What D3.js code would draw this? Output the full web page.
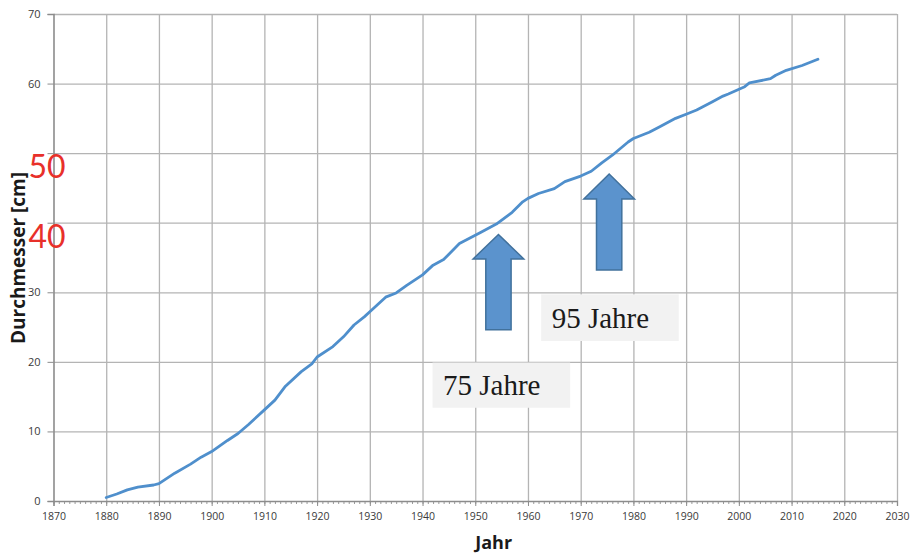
<!DOCTYPE html>
<html lang="de">
<head>
<meta charset="utf-8">
<title>Durchmesser</title>
<script src="https://d3js.org/d3.v7.min.js"></script>
<style>
  body { margin: 0; background: #fff; }
  .grid line { stroke: #b4b4b4; stroke-width: 1.3; }
  .grid path { display: none; }
  .tick text { font-family: "Open Sans", sans-serif; fill: #3a3a3a; }
  #trend { fill: none; stroke: #4f8fcc; stroke-width: 2.8; stroke-linejoin: round; stroke-linecap: round; }
</style>
</head>
<body>
<svg id="chart" width="913" height="554"></svg>
<script>
// Jahr and Durchmesser [cm]
let years = [1880, 1882, 1884, 1886, 1889, 1890, 1893, 1896, 1898, 1900, 1903, 1905, 1907, 1910,
             1912, 1914, 1917, 1919, 1920, 1923, 1925, 1927, 1929, 1930, 1933, 1935, 1937, 1939,
             1940, 1942, 1944, 1947, 1950, 1951, 1954, 1957, 1959, 1960, 1962, 1965, 1967, 1970,
             1972, 1974, 1976, 1979, 1980, 1983, 1985, 1988, 1990, 1992, 1995, 1997, 1998, 2001,
             2002, 2006, 2007, 2009, 2012, 2015];
let diameters = [0.5, 1.0, 1.6, 2.0, 2.3, 2.5, 4.0, 5.3, 6.3, 7.1, 8.7, 9.7, 11.0, 13.1,
                 14.5, 16.5, 18.6, 19.7, 20.7, 22.2, 23.6, 25.3, 26.5, 27.2, 29.3, 29.9, 31.0, 32.0,
                 32.5, 33.9, 34.7, 37.0, 38.2, 38.6, 39.8, 41.5, 43.0, 43.5, 44.2, 44.9, 45.9, 46.7,
                 47.4, 48.6, 49.7, 51.6, 52.1, 53.0, 53.8, 55.0, 55.6, 56.2, 57.4, 58.2, 58.5, 59.5,
                 60.1, 60.7, 61.2, 61.9, 62.6, 63.5];

let xTicks = d3.range(1870, 2031, 10);
let yTicks = d3.range(0, 71, 10);
let redTicks = [50, 40];   // these two labels are drawn big and red

// annotations: arrow tip year, tip value, head base value, bottom value
let arrows = [
    {year: 1954.4, tip: 38.3, head: 34.8, bottom: 24.6},
    {year: 1975.4, tip: 47.0, head: 43.4, bottom: 33.2}
];
let labels = [
    {text: "75 Jahre", x0: 1941.9, x1: 1968.0, y0: 19.9, y1: 13.4},
    {text: "95 Jahre", x0: 1962.5, x1: 1988.6, y0: 29.7, y1: 23.0}
];

let svg = d3.select("#chart");
let margin = {left: 53.5, top: 14, right: 16, bottom: 53};
let width = 913 - margin.left - margin.right;
let height = 554 - margin.top - margin.bottom;

let xScale = d3.scaleLinear().domain([1870, 2030]).range([0, width]);
let yScale = d3.scaleLinear().domain([0, 70]).range([height, 0]);

let g = svg.append("g")
    .attr("transform", "translate(" + margin.left + "," + margin.top + ")");

// grid
g.append("g")
    .attr("class", "grid")
    .call(d3.axisLeft(yScale).tickValues(yTicks.slice(1)).tickSize(-width).tickFormat(""));
g.append("g")
    .attr("class", "grid")
    .attr("transform", "translate(0," + height + ")")
    .call(d3.axisBottom(xScale).tickValues(xTicks.slice(1)).tickSize(height).tickFormat(""))
    .selectAll("line").attr("y2", -height);

// x axis: yearly minor ticks, decade labels
let xAxis = g.append("g").attr("transform", "translate(0," + height + ")");
xAxis.call(d3.axisBottom(xScale).tickValues(d3.range(1870, 2031, 1)).tickSize(3).tickFormat(""))
    .call(a => a.select(".domain").remove())
    .selectAll("line").attr("stroke", "#9a9a9a");
let xLab = g.append("g").attr("transform", "translate(0," + height + ")");
xLab.call(d3.axisBottom(xScale).tickValues(xTicks).tickSize(5).tickPadding(7).tickFormat(d3.format("d")))
    .call(a => a.select(".domain").attr("stroke", "#8c8c8c").attr("stroke-width", 1.3))
    .call(a => a.selectAll("line").attr("stroke", "#8c8c8c"))
    .selectAll("text").style("font-size", "10.5px");

// y axis
let yAxis = g.append("g");
yAxis.call(d3.axisLeft(yScale).tickValues(yTicks).tickSize(6).tickPadding(7)
        .tickFormat(d => redTicks.includes(d) ? "" : d))
    .call(a => a.select(".domain").attr("stroke", "#8c8c8c").attr("stroke-width", 1.6))
    .call(a => a.selectAll("line").attr("stroke", "#8c8c8c"))
    .selectAll("text").style("font-size", "11px");

// the data line
let valueline = d3.line()
    .x((d, i) => xScale(years[i]))
    .y(d => yScale(d));
g.append("path")
    .attr("id", "trend")
    .datum(diameters)
    .attr("d", valueline);

// block arrows
let headHalf = 4.8, shaftHalf = 2.4;  // in years
g.selectAll(".arrow")
    .data(arrows)
    .enter().append("path")
    .attr("class", "arrow")
    .attr("fill", "#5b93cd")
    .attr("stroke", "#41719c")
    .attr("stroke-width", 1.5)
    .attr("stroke-linejoin", "miter")
    .attr("d", d => {
        let pts = [
            [d.year, d.tip],
            [d.year + headHalf, d.head],
            [d.year + shaftHalf, d.head],
            [d.year + shaftHalf, d.bottom],
            [d.year - shaftHalf, d.bottom],
            [d.year - shaftHalf, d.head],
            [d.year - headHalf, d.head]
        ];
        return "M" + pts.map(p => xScale(p[0]) + "," + yScale(p[1])).join("L") + "Z";
    });

// text boxes
let boxes = g.selectAll(".box").data(labels).enter().append("g");
boxes.append("rect")
    .attr("x", d => xScale(d.x0))
    .attr("y", d => yScale(d.y0))
    .attr("width", d => xScale(d.x1) - xScale(d.x0))
    .attr("height", d => yScale(d.y1) - yScale(d.y0))
    .attr("fill", "#f2f2f2");
boxes.append("text")
    .attr("x", d => xScale(d.x0) + 10.5)
    .attr("y", d => yScale(d.y1) - 13)
    .attr("font-family", "'Liberation Serif', 'Times New Roman', serif")
    .attr("font-size", "29px")
    .attr("fill", "#1a1a1a")
    .text(d => d.text);

// red labels 50 / 40
g.selectAll(".red")
    .data(redTicks)
    .enter().append("text")
    .attr("x", -25)
    .attr("y", d => yScale(d) + 25)
    .attr("font-family", "Lato, 'Open Sans', sans-serif")
    .attr("font-size", "32px")
    .attr("fill", "#e8302a")
    .text(d => d);

// axis titles
svg.append("text")
    .attr("transform", "translate(25,258) rotate(-90)")
    .attr("text-anchor", "middle")
    .attr("font-family", "'Open Sans', sans-serif")
    .attr("font-weight", "bold")
    .attr("font-size", "19px")
    .attr("fill", "#1a1a1a")
    .text("Durchmesser [cm]");
svg.append("text")
    .attr("x", margin.left + xScale(1953.5))
    .attr("y", 549)
    .attr("text-anchor", "middle")
    .attr("font-family", "'Open Sans', sans-serif")
    .attr("font-weight", "bold")
    .attr("font-size", "18px")
    .attr("fill", "#1a1a1a")
    .text("Jahr");
</script>
</body>
</html>
